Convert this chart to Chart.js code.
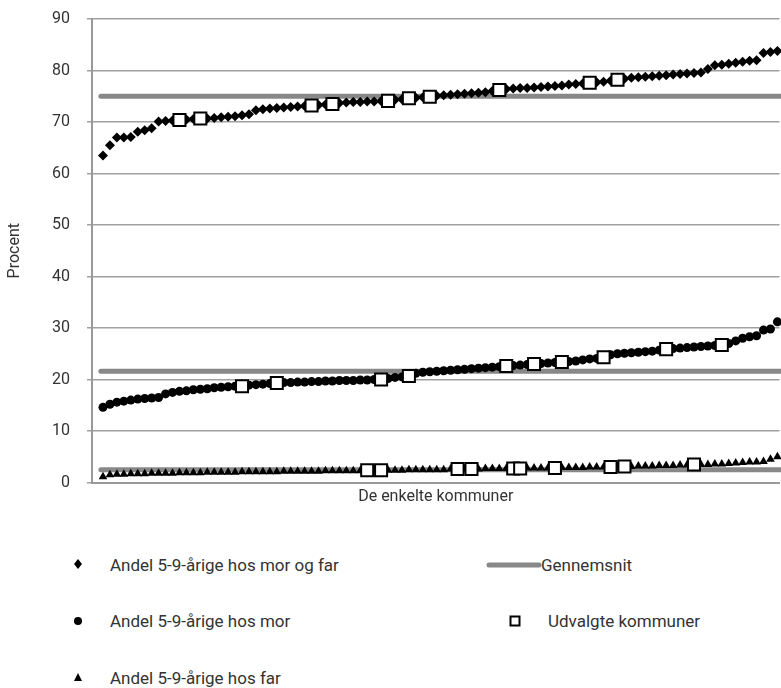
<!DOCTYPE html>
<html>
<head>
<meta charset="utf-8">
<script src="https://cdn.jsdelivr.net/npm/chart.js@4"></script>
<style>
  body { margin: 0; background: #fff; overflow: hidden; font-family: Roboto, "Open Sans", sans-serif; }
  #wrap { position: absolute; left: 0; top: 0; width: 790px; height: 510px; }
  .leg { position: absolute; font-size: 17px; color: #333; line-height: 20px; white-space: nowrap; }
  .sym { position: absolute; }
</style>
</head>
<body>
<div id="wrap"><canvas id="chart"></canvas></div>

<svg class="sym" style="left:73px;top:558px" width="10" height="12"><polygon points="5,1 9,6 5,11 1,6" fill="#000"/></svg>
<div class="leg" style="left:110px;top:555px">Andel 5-9-årige hos mor og far</div>
<svg class="sym" style="left:73px;top:616px" width="10" height="10"><circle cx="5" cy="5" r="4" fill="#000"/></svg>
<div class="leg" style="left:110px;top:611px">Andel 5-9-årige hos mor</div>
<svg class="sym" style="left:73px;top:672px" width="10" height="10"><polygon points="5,1 9,9 1,9" fill="#000"/></svg>
<div class="leg" style="left:110px;top:668px">Andel 5-9-årige hos far</div>
<svg class="sym" style="left:485px;top:561px" width="58" height="8"><line x1="4" y1="4" x2="54" y2="4" stroke="#888" stroke-width="5" stroke-linecap="round"/></svg>
<div class="leg" style="left:541px;top:555px">Gennemsnit</div>
<svg class="sym" style="left:509px;top:615px" width="12" height="12"><rect x="1.5" y="1.5" width="9" height="9" fill="#fff" stroke="#000" stroke-width="2"/></svg>
<div class="leg" style="left:548px;top:611px">Udvalgte kommuner</div>

<script>
// sorted shares per municipality (98 kommuner)
const morOgFar = [63.5, 65.5, 67.0, 67.0, 67.1, 68.1, 68.4, 68.8, 70.1, 70.2,
  70.3, 70.4, 70.5, 70.6, 70.7, 70.7, 70.8, 70.9, 71.0, 71.1,
  71.3, 71.5, 72.3, 72.5, 72.6, 72.7, 72.8, 72.9, 73.0, 73.1,
  73.2, 73.3, 73.4, 73.5, 73.7, 73.8, 73.9, 73.9, 74.0, 74.0,
  74.1, 74.1, 74.3, 74.4, 74.6, 74.7, 74.8, 74.9, 75.1, 75.2,
  75.3, 75.4, 75.5, 75.6, 75.7, 75.8, 76.0, 76.2, 76.4, 76.5,
  76.6, 76.6, 76.7, 76.8, 76.9, 77.0, 77.1, 77.3, 77.4, 77.5,
  77.6, 77.7, 77.8, 78.0, 78.2, 78.4, 78.6, 78.7, 78.8, 78.9,
  79.0, 79.1, 79.2, 79.3, 79.4, 79.5, 79.6, 80.3, 81.0, 81.1,
  81.3, 81.5, 81.7, 81.9, 82.0, 83.4, 83.6, 83.8];
const mor = [14.6, 15.2, 15.6, 15.8, 16.0, 16.2, 16.3, 16.4, 16.5, 17.2,
  17.5, 17.7, 17.8, 18.0, 18.1, 18.2, 18.4, 18.5, 18.6, 18.7,
  18.7, 18.9, 19.0, 19.1, 19.2, 19.3, 19.4, 19.4, 19.5, 19.5,
  19.6, 19.6, 19.7, 19.7, 19.8, 19.8, 19.8, 19.9, 19.9, 20.0,
  20.0, 20.2, 20.4, 20.5, 20.7, 21.2, 21.4, 21.5, 21.6, 21.7,
  21.8, 21.9, 22.0, 22.1, 22.2, 22.3, 22.4, 22.5, 22.6, 22.7,
  22.8, 22.9, 23.0, 23.1, 23.2, 23.3, 23.4, 23.5, 23.6, 23.8,
  24.0, 24.1, 24.3, 24.8, 25.0, 25.1, 25.2, 25.3, 25.4, 25.5,
  25.7, 25.9, 26.0, 26.1, 26.2, 26.3, 26.4, 26.5, 26.6, 26.7,
  27.0, 27.5, 28.0, 28.3, 28.5, 29.6, 29.8, 31.2];
const far = [1.1, 1.5, 1.6, 1.6, 1.7, 1.7, 1.7, 1.8, 1.8, 1.8,
  1.8, 1.9, 1.9, 1.9, 1.9, 2.0, 2.0, 2.0, 2.0, 2.0,
  2.1, 2.1, 2.1, 2.1, 2.1, 2.1, 2.2, 2.2, 2.2, 2.2,
  2.2, 2.2, 2.3, 2.3, 2.3, 2.3, 2.3, 2.3, 2.4, 2.4,
  2.4, 2.4, 2.4, 2.4, 2.5, 2.5, 2.5, 2.5, 2.5, 2.5,
  2.6, 2.6, 2.6, 2.6, 2.6, 2.7, 2.7, 2.7, 2.7, 2.7,
  2.7, 2.8, 2.8, 2.8, 2.8, 2.8, 2.9, 2.9, 2.9, 2.9,
  3.0, 3.0, 3.0, 3.0, 3.1, 3.1, 3.1, 3.2, 3.2, 3.2,
  3.3, 3.3, 3.3, 3.4, 3.4, 3.5, 3.5, 3.5, 3.6, 3.6,
  3.7, 3.8, 3.9, 4.0, 4.0, 4.1, 4.5, 5.0];

// averages
const snitMorOgFar = 75.0;
const snitMor = 21.6;
const snitFar = 2.5;

// positions (in sorted order) of the selected municipalities
const udvMorOgFar = [11, 14, 30, 33, 41, 44, 47, 57, 70, 74];
const udvMor = [20, 25, 40, 44, 58, 62, 66, 72, 81, 89];
const udvFar = [38, 40, 51, 53, 59, 60, 65, 73, 75, 85];

const yTicks = [0, 10, 20, 30, 40, 50, 60, 70, 80, 90];

const toPts = arr => arr.map((v, i) => ({ x: i, y: v }));
const pick = (arr, idx) => idx.map(i => ({ x: i, y: arr[i] }));
const avgLine = v => [{ x: -0.3, y: v }, { x: 99, y: v }];

function marker(label, data, style, radius) {
  return {
    label, data: toPts(data), showLine: false, order: 1,
    pointStyle: style, pointRadius: radius, pointHoverRadius: radius,
    pointBackgroundColor: "#000", pointBorderColor: "#000", pointBorderWidth: 0
  };
}
function squares(data, idx) {
  return {
    label: "Udvalgte kommuner", data: pick(data, idx), showLine: false, order: 0,
    pointStyle: "rect", pointRadius: 8.5, pointHoverRadius: 8.5,
    pointBackgroundColor: "#fff", pointBorderColor: "#000", pointBorderWidth: 2
  };
}
function avg(v) {
  return {
    label: "Gennemsnit", data: avgLine(v), order: 2, showLine: true, pointRadius: 0,
    borderColor: "#888", borderWidth: 5, borderCapStyle: "round"
  };
}

new Chart(document.getElementById("chart"), {
  type: "scatter",
  data: {
    datasets: [
      avg(snitMorOgFar), avg(snitMor), avg(snitFar),
      marker("Andel 5-9-årige hos mor og far", morOgFar, "rectRot", 5),
      marker("Andel 5-9-årige hos mor", mor, "circle", 4.5),
      marker("Andel 5-9-årige hos far", far, "triangle", 5),
      squares(morOgFar, udvMorOgFar), squares(mor, udvMor), squares(far, udvFar)
    ]
  },
  options: {
    responsive: true,
    maintainAspectRatio: false,
    animation: false,
    clip: false,
    layout: { padding: { top: 19, right: 0, left: 0, bottom: 0 } },
    plugins: { legend: { display: false }, tooltip: { enabled: false } },
    scales: {
      x: {
        type: "linear", min: -1.578, max: 97.3,
        grid: { display: false },
        border: { display: true, color: "#999", width: 2 },
        ticks: { display: false },
        title: { display: true, text: "De enkelte kommuner", color: "#333",
          font: { family: "Roboto", size: 16 }, padding: { top: 0, bottom: 3 } },
        afterFit: s => { s.height = 27.5; s.paddingLeft = 0; s.paddingRight = 0; }
      },
      y: {
        min: 0, max: 90,
        afterBuildTicks: s => { s.ticks = yTicks.map(v => ({ value: v })); },
        grid: { color: "#a0a0a0", lineWidth: 1.5, tickLength: 5 },
        border: { display: true, color: "#999", width: 2 },
        ticks: { color: "#333", padding: 17, font: { family: "Roboto", size: 16 } },
        title: { display: true, text: "Procent", color: "#333",
          font: { family: "Roboto", size: 16 }, padding: { top: 5, bottom: 0 } },
        afterFit: s => { s.width = 92; s.paddingTop = 0; s.paddingBottom = 0; }
      }
    }
  }
});
</script>
</body>
</html>
